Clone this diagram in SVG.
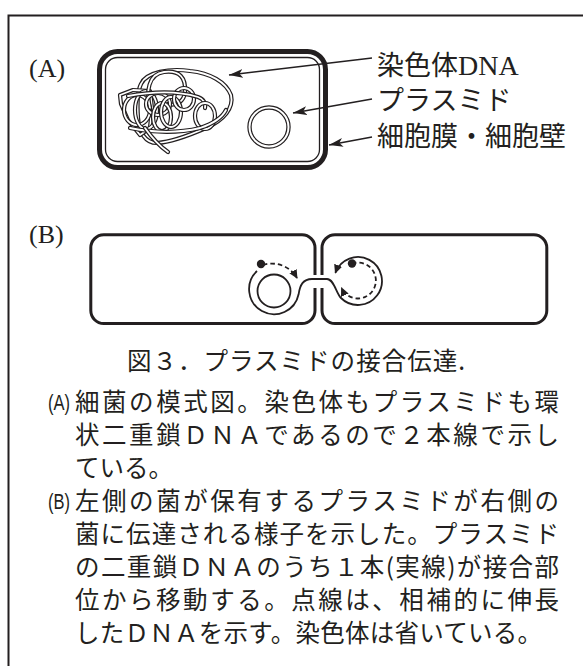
<svg xmlns="http://www.w3.org/2000/svg" width="583" height="666" viewBox="0 0 583 666">
  <style>
    .ink { fill: none; stroke: #231f20; }
    .frame { fill: none; stroke: #231f20; stroke-width: 2; }
    .dna-o { fill: none; stroke: #231f20; stroke-width: 4.2; stroke-linejoin: round; stroke-linecap: round; }
    .dna-i { fill: none; stroke: #fff; stroke-width: 1.8; stroke-linejoin: round; stroke-linecap: round; }
    .lead { fill: none; stroke: #231f20; stroke-width: 1.6; }
    .strand { fill: none; stroke: #231f20; stroke-width: 1.8; }
    .dash { fill: none; stroke: #231f20; stroke-width: 1.8; stroke-dasharray: 4.5 3; }
    .lbl { font-family: "Noto Sans CJK JP", sans-serif; font-size: 27px; fill: #231f20; }
    .ser { font-family: "Liberation Serif", serif; fill: #231f20; }
    .body { font-family: "Noto Sans CJK JP", sans-serif; font-size: 24.5px; fill: #231f20; }
    .mark { font-family: "Liberation Sans", sans-serif; font-size: 22px; fill: #231f20; }
  </style>
  <defs>
    <marker id="ah" markerUnits="userSpaceOnUse" markerWidth="15" markerHeight="10" refX="14" refY="5" orient="auto">
      <path d="M0,0.5 L14,5 L0,9.5 L3.5,5 Z" fill="#231f20"/>
    </marker>
    <marker id="ahs" markerUnits="userSpaceOnUse" markerWidth="10" markerHeight="10" refX="8" refY="5" orient="auto">
      <path d="M0,0.8 L9,5 L0,9.2 Z" fill="#231f20"/>
    </marker>
    <!-- chromosome loops, each drawn as a double line -->
    <path id="c1" d="M141,84 C146,72 170,68 190,71 C210,73 226,82 231,95 C234,108 224,120 206,128 C190,135 172,142 157,143 C145,143 139,132 138,118 C137,104 137,92 141,84 Z"/>
    <path id="c2" d="M120,95 L133,90 L150,91 L152,108 L150,128 L140,135 L128,120 L121,104 Z"/>
    <ellipse id="c3" cx="146" cy="110" rx="11" ry="19"/>
    <path id="c4" d="M150,108 C146,92 148,74 164,72 C180,70 186,78 185,92 C184,102 176,106 168,104"/>
    <ellipse id="c5" cx="158" cy="104" rx="12" ry="11"/>
    <ellipse id="c6" cx="171" cy="112" rx="10" ry="15"/>
    <path id="c7" d="M128,96 C150,92 175,90 198,97 C204,99 206,104 205,108"/>
    <ellipse id="c8" cx="205" cy="116" rx="10" ry="13"/>
    <path id="c9" d="M130,128 C150,132 175,134 200,128 C212,124 222,118 226,110"/>
    <ellipse id="c10" cx="137" cy="110" rx="13" ry="15"/>
    <ellipse id="c11" cx="184" cy="99" rx="10" ry="11"/>
    <ellipse id="c12" cx="162" cy="117" rx="9" ry="14"/>
    <path id="c13" d="M145,128 C152,138 158,145 168,152"/>
  </defs>

  <!-- outer frame, open to the right and bottom -->
  <path class="frame" d="M8.5,666 V15.5 H583"/>

  <!-- (A) cell model -->
  <g id="label-a">
    <text class="ser" x="29" y="77" font-size="26">(A)</text>
  </g>

  <g id="cell-a">
    <rect class="ink" x="99.5" y="51.5" width="226" height="116" rx="18" stroke-width="5"/>
    <rect class="ink" x="105.5" y="57.5" width="214" height="104" rx="12" stroke-width="1.3"/>
  </g>

  <g id="chromosome">
    <use href="#c1" class="dna-o"/><use href="#c1" class="dna-i"/>
    <use href="#c2" class="dna-o"/><use href="#c2" class="dna-i"/>
    <use href="#c10" class="dna-o"/><use href="#c10" class="dna-i"/>
    <use href="#c3" class="dna-o"/><use href="#c3" class="dna-i"/>
    <use href="#c4" class="dna-o"/><use href="#c4" class="dna-i"/>
    <use href="#c5" class="dna-o"/><use href="#c5" class="dna-i"/>
    <use href="#c12" class="dna-o"/><use href="#c12" class="dna-i"/>
    <use href="#c6" class="dna-o"/><use href="#c6" class="dna-i"/>
    <use href="#c11" class="dna-o"/><use href="#c11" class="dna-i"/>
    <use href="#c7" class="dna-o"/><use href="#c7" class="dna-i"/>
    <use href="#c8" class="dna-o"/><use href="#c8" class="dna-i"/>
    <use href="#c9" class="dna-o"/><use href="#c9" class="dna-i"/>
    <use href="#c13" class="dna-o"/><use href="#c13" class="dna-i"/>
  </g>

  <g id="plasmid-a">
    <circle cx="269" cy="127" r="19.5" fill="none" stroke="#231f20" stroke-width="4.4"/>
    <circle cx="269" cy="127" r="19.5" fill="none" stroke="#fff" stroke-width="2"/>
  </g>

  <g id="labels-a">
    <text class="lbl" x="377" y="75">染色体<tspan class="ser" font-size="28">DNA</tspan></text>
    <text class="lbl" x="377" y="110">プラスミド</text>
    <text class="lbl" x="377" y="146">細胞膜・細胞壁</text>
  </g>

  <g id="connectors-a">
    <line class="lead" x1="372" y1="58" x2="229" y2="75" marker-end="url(#ah)"/>
    <line class="lead" x1="372" y1="99" x2="293" y2="113" marker-end="url(#ah)"/>
    <line class="lead" x1="372" y1="137" x2="329" y2="145" marker-end="url(#ah)"/>
  </g>

  <!-- (B) conjugation -->
  <g id="label-b">
    <text class="ser" x="29" y="243" font-size="26">(B)</text>
  </g>

  <g id="cell-donor">
    <rect class="ink" x="90.8" y="234.8" width="224.2" height="88.7" rx="13" stroke-width="3"/>
  </g>
  <g id="cell-recipient">
    <rect class="ink" x="322" y="234.8" width="224.8" height="88.7" rx="13" stroke-width="3"/>
  </g>
  <!-- pore through the two walls -->
  <rect x="312" y="275" width="13" height="13" fill="#fff"/>

  <g id="plasmid-transfer">
    <!-- remaining circular strand in the donor -->
    <circle class="strand" cx="274" cy="291" r="16.5"/>
    <!-- transferred strand: around the donor, through the pore, into the recipient -->
    <path class="strand" d="M257,271 A25 25 0 1 0 298.6,294.3 C300,285 303,279 312,279 L327,279 C334,279 336,293 341,298 A24 24 0 1 0 335.4,272.8" marker-end="url(#ahs)"/>
    <!-- complementary synthesis -->
    <path class="dash" d="M263,265 A29 29 0 0 1 297,278" marker-end="url(#ahs)"/>
    <path class="dash" d="M352,263.5 A18 18 0 1 1 341.5,288" marker-end="url(#ahs)"/>
    <circle cx="261" cy="264" r="4.2" fill="#231f20"/>
    <circle cx="352" cy="263.5" r="4.2" fill="#231f20"/>
  </g>

  <!-- caption -->
  <text class="body" x="127" y="370" textLength="338">図３．プラスミドの接合伝達.</text>

  <g id="notes">
    <text class="mark" x="48" y="410" textLength="22" lengthAdjust="spacingAndGlyphs">(A)</text>
    <text class="body" x="75" y="411" textLength="484">細菌の模式図。染色体もプラスミドも環</text>
    <text class="body" x="75" y="444" textLength="484">状二重鎖ＤＮＡであるので２本線で示し</text>
    <text class="body" x="75" y="477">ている。</text>
    <text class="mark" x="48" y="509" textLength="22" lengthAdjust="spacingAndGlyphs">(B)</text>
    <text class="body" x="75" y="510" textLength="484">左側の菌が保有するプラスミドが右側の</text>
    <text class="body" x="75" y="543" textLength="484">菌に伝達される様子を示した。プラスミド</text>
    <text class="body" x="75" y="576" textLength="484">の二重鎖ＤＮＡのうち１本(実線)が接合部</text>
    <text class="body" x="75" y="609" textLength="484">位から移動する。点線は、相補的に伸長</text>
    <text class="body" x="75" y="642" textLength="467">したＤＮＡを示す。染色体は省いている。</text>
  </g>
</svg>
